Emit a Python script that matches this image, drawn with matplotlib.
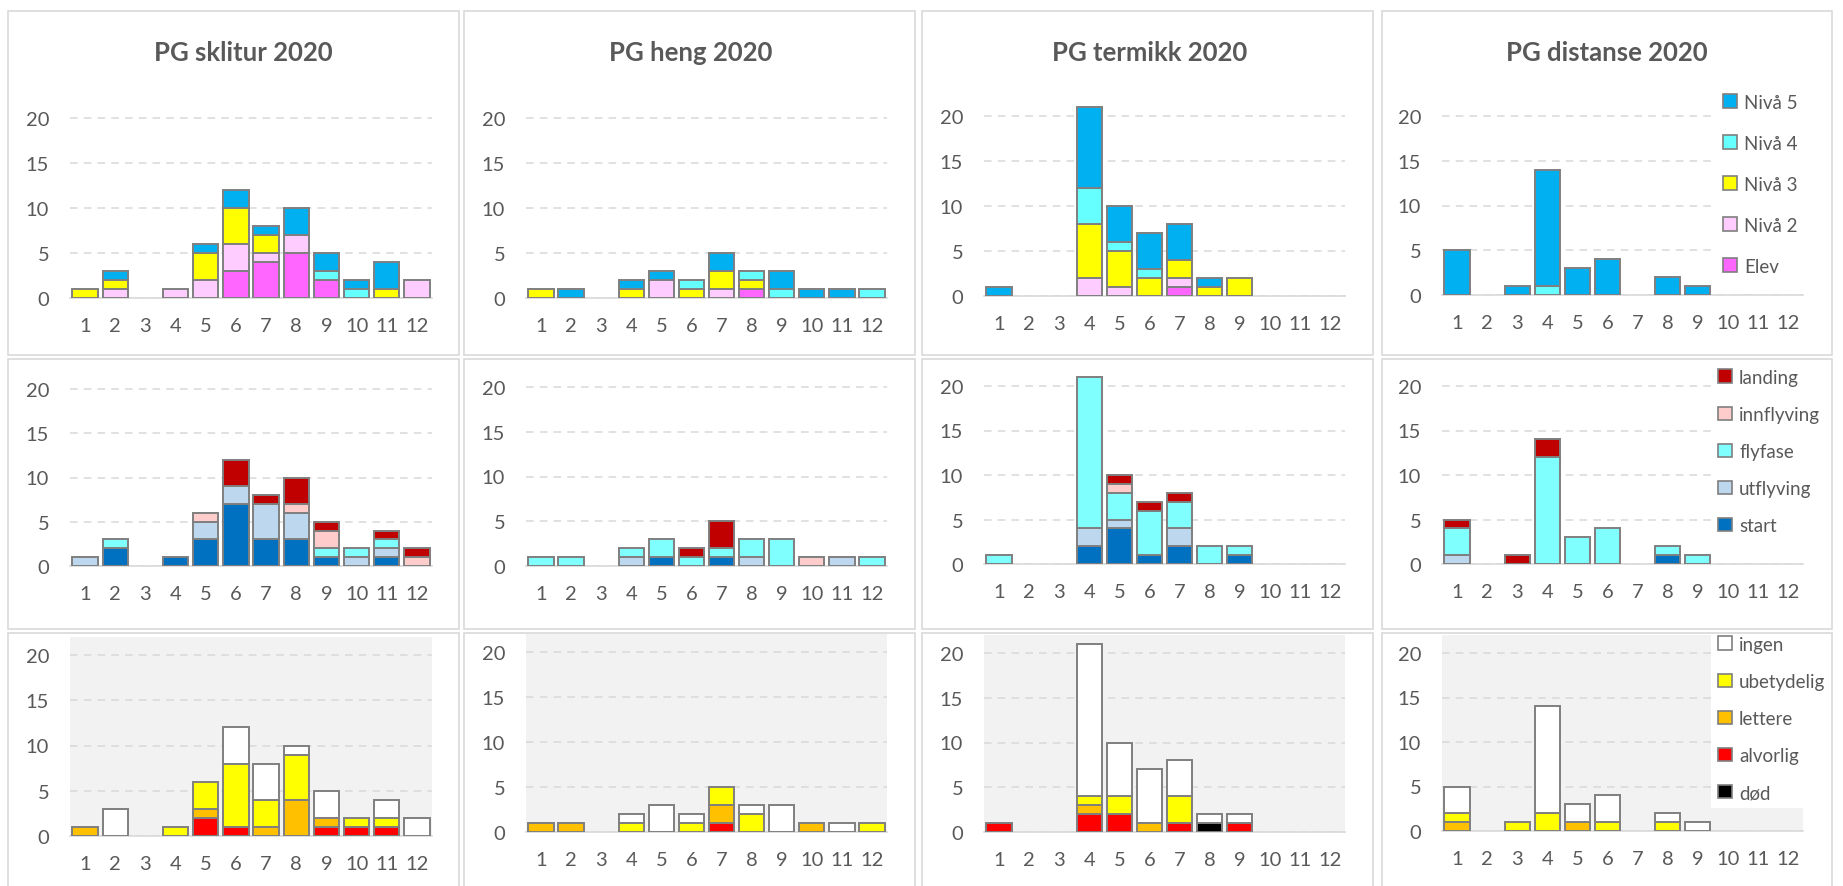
import numpy as np
import matplotlib.pyplot as plt
from matplotlib.patches import Patch, Rectangle

plt.rcParams['font.family'] = ['Lato', 'DejaVu Sans']

W, H = 1843, 887

months = list(range(1, 13))
titles = ['PG sklitur 2020', 'PG heng 2020', 'PG termikk 2020', 'PG distanse 2020']

# row 1: level of pilot (bottom -> top)
level_names = ['Elev', 'Nivå 2', 'Nivå 3', 'Nivå 4', 'Nivå 5']
level_colors = ['#FF66FF', '#FFCCFF', '#FFFF00', '#66FFFF', '#00B0F0']
sklitur_level = [
    [0, 0, 0, 0, 0, 3, 4, 5, 2, 0, 0, 0],
    [0, 1, 0, 1, 2, 3, 1, 2, 0, 0, 0, 2],
    [1, 1, 0, 0, 3, 4, 2, 0, 0, 0, 1, 0],
    [0, 0, 0, 0, 0, 0, 0, 0, 1, 1, 0, 0],
    [0, 1, 0, 0, 1, 2, 1, 3, 2, 1, 3, 0],
]
heng_level = [
    [0, 0, 0, 0, 0, 0, 0, 1, 0, 0, 0, 0],
    [0, 0, 0, 0, 2, 0, 1, 0, 0, 0, 0, 0],
    [1, 0, 0, 1, 0, 1, 2, 1, 0, 0, 0, 0],
    [0, 0, 0, 0, 0, 1, 0, 1, 1, 0, 0, 1],
    [0, 1, 0, 1, 1, 0, 2, 0, 2, 1, 1, 0],
]
termikk_level = [
    [0, 0, 0, 0, 0, 0, 1, 0, 0, 0, 0, 0],
    [0, 0, 0, 2, 1, 0, 1, 0, 0, 0, 0, 0],
    [0, 0, 0, 6, 4, 2, 2, 1, 2, 0, 0, 0],
    [0, 0, 0, 4, 1, 1, 0, 0, 0, 0, 0, 0],
    [1, 0, 0, 9, 4, 4, 4, 1, 0, 0, 0, 0],
]
distanse_level = [
    [0, 0, 0, 0, 0, 0, 0, 0, 0, 0, 0, 0],
    [0, 0, 0, 0, 0, 0, 0, 0, 0, 0, 0, 0],
    [0, 0, 0, 0, 0, 0, 0, 0, 0, 0, 0, 0],
    [0, 0, 0, 1, 0, 0, 0, 0, 0, 0, 0, 0],
    [5, 0, 1, 13, 3, 4, 0, 2, 1, 0, 0, 0],
]

# row 2: flight phase (bottom -> top)
phase_names = ['start', 'utflyving', 'flyfase', 'innflyving', 'landing']
phase_colors = ['#0070C0', '#BDD7EE', '#80FFFF', '#FFCCCC', '#C00000']
sklitur_phase = [
    [0, 2, 0, 1, 3, 7, 3, 3, 1, 0, 1, 0],
    [1, 0, 0, 0, 2, 2, 4, 3, 0, 1, 1, 0],
    [0, 1, 0, 0, 0, 0, 0, 0, 1, 1, 1, 0],
    [0, 0, 0, 0, 1, 0, 0, 1, 2, 0, 0, 1],
    [0, 0, 0, 0, 0, 3, 1, 3, 1, 0, 1, 1],
]
heng_phase = [
    [0, 0, 0, 0, 1, 0, 1, 0, 0, 0, 0, 0],
    [0, 0, 0, 1, 0, 0, 0, 1, 0, 0, 1, 0],
    [1, 1, 0, 1, 2, 1, 1, 2, 3, 0, 0, 1],
    [0, 0, 0, 0, 0, 0, 0, 0, 0, 1, 0, 0],
    [0, 0, 0, 0, 0, 1, 3, 0, 0, 0, 0, 0],
]
termikk_phase = [
    [0, 0, 0, 2, 4, 1, 2, 0, 1, 0, 0, 0],
    [0, 0, 0, 2, 1, 0, 2, 0, 0, 0, 0, 0],
    [1, 0, 0, 17, 3, 5, 3, 2, 1, 0, 0, 0],
    [0, 0, 0, 0, 1, 0, 0, 0, 0, 0, 0, 0],
    [0, 0, 0, 0, 1, 1, 1, 0, 0, 0, 0, 0],
]
distanse_phase = [
    [0, 0, 0, 0, 0, 0, 0, 1, 0, 0, 0, 0],
    [1, 0, 0, 0, 0, 0, 0, 0, 0, 0, 0, 0],
    [3, 0, 0, 12, 3, 4, 0, 1, 1, 0, 0, 0],
    [0, 0, 0, 0, 0, 0, 0, 0, 0, 0, 0, 0],
    [1, 0, 1, 2, 0, 0, 0, 0, 0, 0, 0, 0],
]

# row 3: injury (bottom -> top)
injury_names = ['død', 'alvorlig', 'lettere', 'ubetydelig', 'ingen']
injury_colors = ['#000000', '#FF0000', '#FFC000', '#FFFF00', '#FFFFFF']
sklitur_injury = [
    [0, 0, 0, 0, 0, 0, 0, 0, 0, 0, 0, 0],
    [0, 0, 0, 0, 2, 1, 0, 0, 1, 1, 1, 0],
    [1, 0, 0, 0, 1, 0, 1, 4, 1, 0, 0, 0],
    [0, 0, 0, 1, 3, 7, 3, 5, 0, 1, 1, 0],
    [0, 3, 0, 0, 0, 4, 4, 1, 3, 0, 2, 2],
]
heng_injury = [
    [0, 0, 0, 0, 0, 0, 0, 0, 0, 0, 0, 0],
    [0, 0, 0, 0, 0, 0, 1, 0, 0, 0, 0, 0],
    [1, 1, 0, 0, 0, 0, 2, 0, 0, 1, 0, 0],
    [0, 0, 0, 1, 0, 1, 2, 2, 0, 0, 0, 1],
    [0, 0, 0, 1, 3, 1, 0, 1, 3, 0, 1, 0],
]
termikk_injury = [
    [0, 0, 0, 0, 0, 0, 0, 1, 0, 0, 0, 0],
    [1, 0, 0, 2, 2, 0, 1, 0, 1, 0, 0, 0],
    [0, 0, 0, 1, 0, 1, 0, 0, 0, 0, 0, 0],
    [0, 0, 0, 1, 2, 0, 3, 0, 0, 0, 0, 0],
    [0, 0, 0, 17, 6, 6, 4, 1, 1, 0, 0, 0],
]
distanse_injury = [
    [0, 0, 0, 0, 0, 0, 0, 0, 0, 0, 0, 0],
    [0, 0, 0, 0, 0, 0, 0, 0, 0, 0, 0, 0],
    [1, 0, 0, 0, 1, 0, 0, 0, 0, 0, 0, 0],
    [1, 0, 1, 2, 0, 1, 0, 1, 0, 0, 0, 0],
    [3, 0, 0, 12, 2, 3, 0, 1, 1, 0, 0, 0],
]

rows = [
    (level_names, level_colors, [sklitur_level, heng_level, termikk_level, distanse_level]),
    (phase_names, phase_colors, [sklitur_phase, heng_phase, termikk_phase, distanse_phase]),
    (injury_names, injury_colors, [sklitur_injury, heng_injury, termikk_injury, distanse_injury]),
]

# layout in pixels (screenshot collage of 12 excel charts)
col_x = [(70, 432), (526, 887), (984, 1345), (1442, 1803)]
y0_px = [[299, 299, 297, 296], [567, 567, 565, 565], [837, 833, 833, 832]]
y20_px = [[119, 119, 117, 117], [390, 388, 387, 387], [656, 653, 654, 654]]
panel_x = [(8, 459), (464, 915), (922, 1373), (1382, 1832)]
panel_y = [(12, 356), (360, 630), (634, 890)]
title_x = [243, 691, 1150, 1607]
legend_anchor = [(0.76, 1.056), (0.745, 1.03), (0.745, 1.03)]
legend_spacing = [1.28, 1.07, 1.07]

grey_txt = '#595959'
fig = plt.figure(figsize=(W / 100, H / 100), dpi=100)

# thin grey frame round each pasted chart
for r in range(3):
    for c in range(4):
        x0, x1 = panel_x[c]
        ya, yb = panel_y[r]
        fig.add_artist(Rectangle((x0 / W, 1 - yb / H), (x1 - x0) / W, (yb - ya) / H,
                                 transform=fig.transFigure, fill=False, zorder=10,
                                 edgecolor='#D9D9D9', linewidth=1.2))

for r, (names, colors, panels) in enumerate(rows):
    for c, data in enumerate(panels):
        y0, y20 = y0_px[r][c], y20_px[r][c]
        ppu = (y0 - y20) / 20
        top = y0 - 22 * ppu
        xa, xb = col_x[c]
        ax = fig.add_axes([xa / W, 1 - y0 / H, (xb - xa) / W, (y0 - top) / H])
        ax.patch.set_alpha(1 if r == 2 else 0)
        if r == 2:
            ax.set_facecolor('#F2F2F2')
        bottom = np.zeros(12)
        x = np.array(months)
        for vals, col in zip(data, colors):
            v = np.array(vals, dtype=float)
            m = v > 0  # skip empty segments, excel draws nothing there
            ax.bar(x[m], v[m], bottom=bottom[m], width=0.84, color=col,
                   edgecolor='#7F7F7F', linewidth=1.4, zorder=3)
            bottom += v
        ax.set_xlim(0.5, 12.5)
        ax.set_ylim(0, 22)
        ax.set_yticks([0, 5, 10, 15, 20])
        ax.set_xticks(months)
        ax.yaxis.grid(True, color='#D9D9D9', linestyle=(0, (5, 4)), linewidth=1.1, zorder=0)
        ax.set_axisbelow(True)
        for s in ['top', 'right', 'left']:
            ax.spines[s].set_visible(False)
        ax.spines['bottom'].set_color('#D9D9D9')
        ax.spines['bottom'].set_linewidth(1.2)
        ax.tick_params(axis='both', length=0, labelsize=14.5, labelcolor=grey_txt)
        ax.tick_params(axis='y', pad=15)
        ax.tick_params(axis='x', pad=14)

        if r == 0:
            fig.text(title_x[c] / W, 1 - 53 / H, titles[c], ha='center', va='center',
                     fontsize=18.5, fontweight='bold', color=grey_txt)

        if c == 3:
            handles = [Patch(facecolor=col, edgecolor='#7F7F7F', linewidth=1.2, label=n)
                       for n, col in zip(names, colors)][::-1]
            leg = ax.legend(handles=handles, loc='upper left', bbox_to_anchor=legend_anchor[r],
                            frameon=True, facecolor='white', edgecolor='none', framealpha=1,
                            fontsize=13.5, labelspacing=legend_spacing[r], handlelength=0.75,
                            handleheight=0.75, handletextpad=0.4, borderaxespad=0,
                            fancybox=False, borderpad=0.35)
            leg.set_zorder(5)
            for t in leg.get_texts():
                t.set_color(grey_txt)

fig.savefig('out.png', dpi=100, facecolor='white')
